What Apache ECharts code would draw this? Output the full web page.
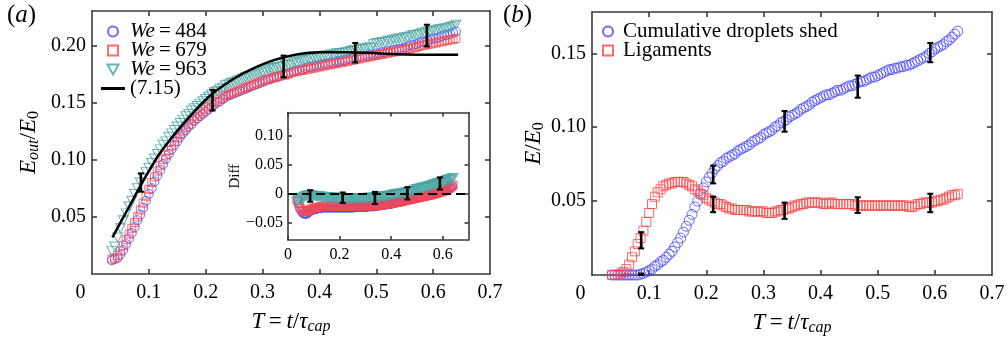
<!DOCTYPE html>
<html><head><meta charset="utf-8">
<script src="https://cdn.jsdelivr.net/npm/echarts@6/dist/echarts.min.js"></script>
<style>html,body{margin:0;padding:0;background:#fff}#c{width:1008px;height:342px}</style>
</head><body><div id="c"></div>
<script>
// ---------- data ----------
const T = [0.035,
  0.040,0.045,0.050,0.055,0.060,0.065,0.070,0.075,0.080,0.085,
  0.090,0.095,0.100,0.105,0.110,0.115,0.120,0.125,0.130,0.135,
  0.140,0.145,0.150,0.155,0.160,0.165,0.170,0.175,0.180,0.185,
  0.190,0.195,0.200,0.205,0.210,0.215,0.220,0.225,0.230,0.235,
  0.240,0.245,0.250,0.255,0.260,0.265,0.270,0.275,0.280,0.285,
  0.290,0.295,0.300,0.305,0.310,0.315,0.320,0.325,0.330,0.335,
  0.340,0.345,0.350,0.355,0.360,0.365,0.370,0.375,0.380,0.385,
  0.390,0.395,0.400,0.405,0.410,0.415,0.420,0.425,0.430,0.435,
  0.440,0.445,0.450,0.455,0.460,0.465,0.470,0.475,0.480,0.485,
  0.490,0.495,0.500,0.505,0.510,0.515,0.520,0.525,0.530,0.535,
  0.540,0.545,0.550,0.555,0.560,0.565,0.570,0.575,0.580,0.585,
  0.590,0.595,0.600,0.605,0.610,0.615,0.620,0.625,0.630,0.635,
  0.640];
// panel (a): E_out/E_0
const E484 = [0.012,
  0.013,0.014,0.017,0.021,0.026,0.031,0.036,0.041,0.047,0.052,
  0.058,0.064,0.070,0.075,0.081,0.086,0.091,0.096,0.101,0.105,
  0.109,0.113,0.116,0.120,0.123,0.126,0.129,0.131,0.134,0.136,
  0.138,0.140,0.142,0.144,0.146,0.148,0.150,0.151,0.153,0.155,
  0.156,0.157,0.158,0.159,0.160,0.161,0.162,0.163,0.164,0.165,
  0.166,0.167,0.168,0.169,0.170,0.171,0.172,0.172,0.173,0.174,
  0.175,0.175,0.176,0.177,0.178,0.178,0.179,0.180,0.181,0.181,
  0.182,0.182,0.183,0.183,0.184,0.184,0.185,0.185,0.186,0.186,
  0.187,0.187,0.188,0.188,0.189,0.189,0.190,0.190,0.191,0.191,
  0.192,0.192,0.193,0.193,0.194,0.194,0.195,0.195,0.196,0.196,
  0.197,0.197,0.198,0.199,0.200,0.200,0.201,0.202,0.203,0.203,
  0.204,0.205,0.206,0.206,0.207,0.208,0.209,0.209,0.210,0.211,
  0.212];
const E679 = [0.013,
  0.014,0.016,0.020,0.025,0.030,0.035,0.040,0.045,0.050,0.056,
  0.062,0.068,0.074,0.080,0.085,0.090,0.095,0.100,0.104,0.108,
  0.112,0.116,0.119,0.122,0.125,0.128,0.131,0.134,0.136,0.138,
  0.140,0.142,0.144,0.146,0.148,0.150,0.151,0.153,0.154,0.156,
  0.157,0.158,0.159,0.160,0.161,0.162,0.163,0.164,0.165,0.166,
  0.167,0.168,0.169,0.170,0.170,0.171,0.172,0.173,0.173,0.174,
  0.174,0.175,0.176,0.177,0.177,0.178,0.178,0.179,0.179,0.180,
  0.180,0.181,0.181,0.182,0.182,0.183,0.183,0.184,0.184,0.185,
  0.185,0.186,0.186,0.187,0.187,0.188,0.188,0.189,0.189,0.190,
  0.190,0.191,0.191,0.192,0.192,0.193,0.193,0.194,0.194,0.195,
  0.195,0.196,0.196,0.197,0.197,0.198,0.198,0.199,0.200,0.200,
  0.201,0.201,0.202,0.202,0.203,0.203,0.204,0.204,0.205,0.205,
  0.206];
const E963 = [0.020,
  0.024,0.032,0.040,0.047,0.053,0.059,0.064,0.070,0.075,0.080,
  0.084,0.089,0.093,0.097,0.101,0.105,0.109,0.113,0.116,0.120,
  0.123,0.126,0.129,0.132,0.135,0.138,0.140,0.143,0.145,0.147,
  0.149,0.151,0.153,0.155,0.157,0.159,0.160,0.162,0.163,0.165,
  0.166,0.167,0.168,0.169,0.170,0.171,0.172,0.173,0.174,0.175,
  0.176,0.177,0.177,0.178,0.179,0.180,0.180,0.181,0.181,0.182,
  0.183,0.183,0.184,0.185,0.185,0.186,0.187,0.187,0.188,0.188,
  0.189,0.189,0.190,0.190,0.191,0.191,0.192,0.192,0.193,0.193,
  0.193,0.194,0.194,0.195,0.196,0.196,0.197,0.197,0.197,0.198,
  0.198,0.201,0.202,0.202,0.203,0.203,0.204,0.204,0.205,0.205,
  0.206,0.206,0.207,0.207,0.208,0.209,0.209,0.210,0.211,0.211,
  0.212,0.212,0.213,0.213,0.214,0.214,0.215,0.215,0.216,0.217,
  0.218];
// model (7.15)
const modelT = [0.036,0.05,0.07,0.086,0.10,0.12,0.15,0.18,0.21,0.25,0.28,0.32,0.36,0.40,0.45,0.50,0.55,0.60,0.644];
const modelE = [0.032,0.045,0.063,0.078,0.090,0.106,0.125,0.142,0.157,0.171,0.179,0.187,0.192,0.194,0.194,0.193,0.192,0.1917,0.1917];
// error bars panel (a)
const errTa  = [0.086,0.212,0.337,0.463,0.589];
const errLoA = [0.072,0.143,0.172,0.185,0.199];
const errHiA = [0.088,0.161,0.191,0.202,0.218];
// inset: Diff
const D484 = [-0.012,
  -0.018,-0.025,-0.029,-0.033,-0.035,-0.036,-0.036,-0.035,-0.033,-0.031,
  -0.030,-0.029,-0.028,-0.028,-0.027,-0.027,-0.026,-0.026,-0.025,-0.025,
  -0.025,-0.025,-0.025,-0.025,-0.025,-0.025,-0.025,-0.025,-0.025,-0.025,
  -0.025,-0.025,-0.025,-0.025,-0.025,-0.025,-0.025,-0.025,-0.025,-0.025,
  -0.025,-0.025,-0.025,-0.025,-0.024,-0.024,-0.024,-0.024,-0.024,-0.024,
  -0.024,-0.024,-0.024,-0.024,-0.023,-0.023,-0.023,-0.023,-0.023,-0.023,
  -0.022,-0.022,-0.022,-0.021,-0.021,-0.021,-0.020,-0.020,-0.020,-0.019,
  -0.019,-0.019,-0.018,-0.018,-0.017,-0.017,-0.016,-0.016,-0.015,-0.015,
  -0.014,-0.014,-0.013,-0.013,-0.012,-0.012,-0.011,-0.011,-0.010,-0.010,
  -0.009,-0.009,-0.008,-0.008,-0.007,-0.007,-0.006,-0.006,-0.005,-0.005,
  -0.004,-0.004,-0.003,-0.003,-0.002,-0.001,0.000,0.000,0.001,0.001,
  0.002,0.003,0.004,0.004,0.005,0.006,0.007,0.008,0.009,0.010,
  0.012];
const D679 = [-0.011,
  -0.016,-0.022,-0.026,-0.029,-0.031,-0.031,-0.031,-0.030,-0.029,-0.028,
  -0.027,-0.026,-0.025,-0.025,-0.024,-0.024,-0.023,-0.023,-0.022,-0.022,
  -0.022,-0.022,-0.022,-0.022,-0.022,-0.022,-0.022,-0.022,-0.022,-0.022,
  -0.022,-0.022,-0.022,-0.022,-0.022,-0.022,-0.022,-0.022,-0.022,-0.022,
  -0.022,-0.022,-0.022,-0.022,-0.022,-0.022,-0.022,-0.022,-0.022,-0.021,
  -0.021,-0.021,-0.021,-0.021,-0.021,-0.021,-0.021,-0.021,-0.021,-0.020,
  -0.020,-0.020,-0.020,-0.019,-0.019,-0.019,-0.019,-0.018,-0.018,-0.018,
  -0.018,-0.017,-0.017,-0.016,-0.016,-0.015,-0.015,-0.015,-0.014,-0.014,
  -0.013,-0.013,-0.012,-0.012,-0.011,-0.011,-0.010,-0.010,-0.009,-0.009,
  -0.008,-0.008,-0.007,-0.007,-0.006,-0.006,-0.005,-0.005,-0.004,-0.004,
  -0.003,-0.003,-0.002,-0.002,-0.001,-0.001,0.000,0.000,0.001,0.002,
  0.003,0.003,0.004,0.005,0.006,0.007,0.008,0.009,0.011,0.013,
  0.015];
const D963 = [-0.014,
  -0.012,-0.010,-0.009,-0.007,-0.006,-0.005,-0.004,-0.003,-0.003,-0.003,
  -0.003,-0.003,-0.004,-0.004,-0.004,-0.005,-0.005,-0.005,-0.005,-0.006,
  -0.006,-0.006,-0.006,-0.006,-0.007,-0.007,-0.007,-0.007,-0.007,-0.007,
  -0.008,-0.008,-0.008,-0.008,-0.008,-0.008,-0.008,-0.008,-0.008,-0.008,
  -0.008,-0.008,-0.008,-0.008,-0.008,-0.008,-0.008,-0.008,-0.008,-0.008,
  -0.008,-0.008,-0.008,-0.008,-0.007,-0.007,-0.007,-0.007,-0.007,-0.007,
  -0.006,-0.006,-0.006,-0.006,-0.005,-0.005,-0.005,-0.005,-0.004,-0.004,
  -0.004,-0.003,-0.003,-0.002,-0.002,-0.001,-0.001,0.000,0.000,0.000,
  0.000,0.001,0.001,0.002,0.002,0.003,0.003,0.004,0.004,0.005,
  0.005,0.007,0.008,0.008,0.009,0.009,0.010,0.010,0.011,0.011,
  0.012,0.013,0.013,0.014,0.015,0.016,0.016,0.017,0.018,0.018,
  0.019,0.020,0.020,0.021,0.022,0.023,0.024,0.024,0.025,0.026,
  0.027];
const errLoD = [-0.014,-0.016,-0.018,-0.010,0.007];
const errHiD = [0.006,0.002,0.003,0.011,0.028];
// panel (b): E/E_0
const shed = [0.000,
  0.000,0.000,0.000,0.000,0.000,0.000,0.000,0.000,0.000,0.0005,
  0.001,0.002,0.003,0.004,0.006,0.007,0.009,0.010,0.012,0.014,
  0.016,0.019,0.022,0.025,0.029,0.033,0.037,0.041,0.046,0.050,
  0.055,0.059,0.063,0.066,0.069,0.072,0.074,0.076,0.077,0.079,
  0.080,0.081,0.082,0.084,0.085,0.086,0.087,0.088,0.090,0.091,
  0.092,0.093,0.095,0.096,0.097,0.098,0.100,0.101,0.103,0.104,
  0.105,0.107,0.108,0.109,0.110,0.112,0.113,0.114,0.115,0.117,
  0.118,0.119,0.120,0.121,0.122,0.122,0.123,0.124,0.125,0.125,
  0.126,0.127,0.128,0.128,0.129,0.130,0.131,0.131,0.132,0.133,
  0.134,0.134,0.135,0.136,0.137,0.138,0.139,0.139,0.140,0.140,
  0.141,0.141,0.142,0.142,0.143,0.144,0.145,0.146,0.147,0.148,
  0.150,0.151,0.153,0.154,0.155,0.156,0.158,0.159,0.161,0.163,
  0.165];
const lig = [0.000,
  0.000,0.000,0.001,0.002,0.004,0.007,0.012,0.016,0.021,0.025,
  0.030,0.036,0.042,0.048,0.053,0.056,0.058,0.060,0.061,0.062,
  0.062,0.063,0.063,0.063,0.063,0.062,0.061,0.060,0.058,0.057,
  0.055,0.054,0.052,0.051,0.050,0.049,0.048,0.048,0.047,0.046,
  0.045,0.045,0.044,0.044,0.044,0.044,0.044,0.043,0.043,0.043,
  0.043,0.043,0.043,0.042,0.042,0.042,0.043,0.043,0.044,0.044,
  0.045,0.045,0.046,0.047,0.047,0.048,0.048,0.049,0.049,0.049,
  0.049,0.049,0.049,0.048,0.048,0.049,0.049,0.048,0.048,0.048,
  0.048,0.048,0.048,0.048,0.047,0.047,0.047,0.047,0.047,0.047,
  0.047,0.047,0.047,0.047,0.047,0.047,0.047,0.047,0.047,0.047,
  0.047,0.047,0.047,0.046,0.046,0.047,0.048,0.048,0.049,0.049,
  0.049,0.049,0.050,0.050,0.051,0.051,0.052,0.053,0.054,0.054,
  0.055];
const errTb     = [0.086,0.212,0.337,0.465,0.592];
const errLoShed = [0.000,0.062,0.097,0.120,0.144];
const errHiShed = [0.001,0.074,0.111,0.135,0.157];
const errLoLig  = [0.018,0.0425,0.038,0.042,0.0425];
const errHiLig  = [0.029,0.053,0.049,0.0526,0.055];
// tick values
const xTickLabels = [0,0.1,0.2,0.3,0.4,0.5,0.6,0.7];
const xTicks = [0.1,0.2,0.3,0.4,0.5,0.6];
const yTicksA = [0.05,0.10,0.15,0.20];
const yTicksB = [0.05,0.10,0.15];
const xTicksInset = [0,0.2,0.4,0.6];
const yTicksInset = [-0.05,0,0.05,0.10];

// ---------- style ----------
const FONT = 'Liberation Serif';
const AX = '#3a3a3a';
const BLUE = '#4646ff', RED = '#ff4646', TEAL = '#44a3a0';
const TRI = 'path://M0,0L10,0L5,9Z';
const SQ = 'path://M0,0L10,0L10,10L0,10Z';
const BAR = 'path://M0,0L24,0L24,3L0,3Z';
const HOLLOW = 'rgba(255,255,255,0)';

function pts(xs, ys){ return xs.map((x,i)=>[x, ys[i]]); }
function errData(xs, lo, hi){ return xs.map((x,i)=>[x, lo[i], hi[i]]); }
function errRender(params, api){
  const x = api.value(0), lo = api.value(1), hi = api.value(2);
  const a = api.coord([x, lo]), b = api.coord([x, hi]);
  const w = 3;
  return {type:'group', children:[
    {type:'line', shape:{x1:a[0],y1:a[1],x2:b[0],y2:b[1]}, style:{stroke:'#000', lineWidth:2.6}},
    {type:'line', shape:{x1:a[0]-w,y1:a[1],x2:a[0]+w,y2:a[1]}, style:{stroke:'#000', lineWidth:2}},
    {type:'line', shape:{x1:b[0]-w,y1:b[1],x2:b[0]+w,y2:b[1]}, style:{stroke:'#000', lineWidth:2}}
  ]};
}
const richTitle = (size) => ({
  i:{fontFamily:FONT, fontStyle:'italic', fontSize:size, color:'#000'},
  n:{fontFamily:FONT, fontSize:size, color:'#000'},
  s:{fontFamily:FONT, fontStyle:'italic', fontSize:Math.round(size*0.7), color:'#000', padding:[11,0,0,0]},
  z:{fontFamily:FONT, fontSize:Math.round(size*0.7), color:'#000', padding:[11,0,0,0]}
});
const lineStyleAx = {color:AX, width:1.6};
function mainX(gi, name){
  return [
    {type:'value', gridIndex:gi, position:'bottom', min:0, max:0.7,
     axisLine:{show:true, onZero:false, lineStyle:lineStyleAx},
     axisTick:{show:true, inside:true, length:5, customValues:xTicks, lineStyle:lineStyleAx},
     axisLabel:{show:true, customValues:xTickLabels, margin:9, fontFamily:FONT, fontSize:20, color:'#000',
       formatter:v => Math.abs(v) < 1e-9 ? '{z|0}' : v.toFixed(1),
       rich:{z:{fontFamily:FONT, fontSize:20, color:'#000', padding:[0,23,0,0]}}},
     splitLine:{show:false},
     name:name, nameLocation:'middle', nameGap:34,
     nameTextStyle:{rich:richTitle(23)}},
    {type:'value', gridIndex:gi, position:'top', min:0, max:0.7,
     axisLine:{show:true, onZero:false, lineStyle:lineStyleAx},
     axisTick:{show:true, inside:true, length:5, customValues:xTicks, lineStyle:lineStyleAx},
     axisLabel:{show:false}, splitLine:{show:false}}
  ];
}
function mainY(gi, max, ticks, name, gap){
  return [
    {type:'value', gridIndex:gi, position:'left', min:0, max:max,
     axisLine:{show:true, onZero:false, lineStyle:lineStyleAx},
     axisTick:{show:true, inside:true, length:5, customValues:ticks, lineStyle:lineStyleAx},
     axisLabel:{show:true, customValues:ticks, margin:6, fontFamily:FONT, fontSize:20, color:'#000',
       formatter:v => v.toFixed(2)},
     splitLine:{show:false},
     name:name, nameLocation:'middle', nameRotate:90, nameGap:gap,
     nameTextStyle:{rich:richTitle(23)}},
    {type:'value', gridIndex:gi, position:'right', min:0, max:max,
     axisLine:{show:true, onZero:false, lineStyle:lineStyleAx},
     axisTick:{show:true, inside:true, length:5, customValues:ticks, lineStyle:lineStyleAx},
     axisLabel:{show:false}, splitLine:{show:false}}
  ];
}
const insetX = [
  {type:'value', gridIndex:1, position:'bottom', min:0, max:0.7, z:11,
   axisLine:{show:true, onZero:false, lineStyle:lineStyleAx},
   axisTick:{show:true, inside:true, length:4, customValues:xTicksInset, lineStyle:lineStyleAx},
   axisLabel:{show:true, customValues:xTicksInset, margin:7, fontFamily:FONT, fontSize:16, color:'#000',
     formatter:v => Math.abs(v) < 1e-9 ? '0' : v.toFixed(1)},
   splitLine:{show:false}},
  {type:'value', gridIndex:1, position:'top', min:0, max:0.7, z:11,
   axisLine:{show:true, onZero:false, lineStyle:lineStyleAx},
   axisTick:{show:true, inside:true, length:4, customValues:xTicksInset, lineStyle:lineStyleAx},
   axisLabel:{show:false}, splitLine:{show:false}}
];
const insetY = [
  {type:'value', gridIndex:1, position:'left', min:-0.08, max:0.14, z:11,
   axisLine:{show:true, onZero:false, lineStyle:lineStyleAx},
   axisTick:{show:true, inside:true, length:4, customValues:yTicksInset, lineStyle:lineStyleAx},
   axisLabel:{show:true, customValues:yTicksInset, margin:5, fontFamily:FONT, fontSize:16, color:'#000',
     formatter:v => Math.abs(v) < 1e-9 ? '0' : (v < 0 ? '\u2212' : '') + Math.abs(v).toFixed(2)},
   splitLine:{show:false},
   name:'Diff', nameLocation:'middle', nameRotate:90, nameGap:40,
   nameTextStyle:{fontFamily:FONT, fontSize:15, color:'#000'}},
  {type:'value', gridIndex:1, position:'right', min:-0.08, max:0.14, z:11,
   axisLine:{show:true, onZero:false, lineStyle:lineStyleAx},
   axisTick:{show:true, inside:true, length:4, customValues:yTicksInset, lineStyle:lineStyleAx},
   axisLabel:{show:false}, splitLine:{show:false}}
];

const xName = '{i|T}{n|\u2009=\u2009}{i|t}{n|/}{i|\u03c4}{s|cap}';
const legendText = {fontFamily:FONT, fontSize:21, color:'#000', lineHeight:17,
  rich:{i:{fontFamily:FONT, fontStyle:'italic', fontSize:21, color:'#000', lineHeight:17},
        n:{fontFamily:FONT, fontSize:21, color:'#000', lineHeight:17}}};
const option = {
  animation:false,
  backgroundColor:'#fff',
  grid:[
    {left:92, top:11, width:398, height:263},
    {left:288, top:112.5, width:180.5, height:127.5, show:true, backgroundColor:'#fff', borderWidth:0, z:10},
    {left:592, top:12, width:400, height:263}
  ],
  xAxis:[...mainX(0, xName), ...insetX, ...mainX(2, xName)],
  yAxis:[...mainY(0, 0.23, yTicksA, '{i|E}{s|out}{n|/}{i|E}{z|0}', 50),
         ...insetY,
         ...mainY(2, 0.178, yTicksB, '{i|E}{n|/}{i|E}{z|0}', 39)],
  legend:[
    {left:96, top:16, orient:'vertical', itemWidth:24, itemHeight:10, itemGap:-2, selectedMode:false,
     data:[{name:'We = 484', icon:'circle'},{name:'We = 679', icon:SQ},{name:'We = 963', icon:TRI},{name:'(7.15)', icon:BAR}],
     formatter:n => n.indexOf('We') === 0 ? '{i|We}{n|\u2009=\u2009' + n.slice(5) + '}' : '{n|' + n + '}',
     textStyle:legendText},
    {left:597, top:16, orient:'vertical', itemWidth:20, itemHeight:10, itemGap:-2, selectedMode:false,
     data:[{name:'Cumulative droplets shed', icon:'circle'},{name:'Ligaments', icon:SQ}],
     formatter:n => '{n|' + n + '}',
     textStyle:legendText}
  ],
  graphic:[
    {type:'text', left:7, top:3, style:{text:'{n|(}{i|a}{n|)}', rich:richTitle(25)}},
    {type:'text', left:503, top:3, style:{text:'{n|(}{i|b}{n|)}', rich:richTitle(25)}}
  ],
  series:[
    {name:'We = 484', type:'scatter', xAxisIndex:0, yAxisIndex:0, data:pts(T,E484), symbol:'circle', symbolSize:9,
     itemStyle:{color:HOLLOW, borderColor:BLUE, borderWidth:1}, z:2},
    {name:'We = 679', type:'scatter', xAxisIndex:0, yAxisIndex:0, data:pts(T,E679), symbol:'rect', symbolSize:8,
     itemStyle:{color:HOLLOW, borderColor:RED, borderWidth:1}, z:2},
    {name:'We = 963', type:'scatter', xAxisIndex:0, yAxisIndex:0, data:pts(T,E963), symbol:TRI, symbolSize:[10,9],
     itemStyle:{color:HOLLOW, borderColor:TEAL, borderWidth:1}, z:2},
    {name:'(7.15)', type:'line', xAxisIndex:0, yAxisIndex:0, data:pts(modelT,modelE), smooth:0.35, symbol:'none',
     lineStyle:{color:'#000', width:2.5}, itemStyle:{color:'#000'}, z:4},
    {name:'errA', type:'custom', xAxisIndex:0, yAxisIndex:0, renderItem:errRender, data:errData(errTa,errLoA,errHiA), z:5},
    // inset
    {name:'d484', type:'scatter', xAxisIndex:2, yAxisIndex:2, data:pts(T,D484), symbol:'circle', symbolSize:8,
     itemStyle:{color:HOLLOW, borderColor:BLUE, borderWidth:1}, z:12},
    {name:'d679', type:'scatter', xAxisIndex:2, yAxisIndex:2, data:pts(T,D679), symbol:'rect', symbolSize:8,
     itemStyle:{color:HOLLOW, borderColor:RED, borderWidth:1}, z:12},
    {name:'d963', type:'scatter', xAxisIndex:2, yAxisIndex:2, data:pts(T,D963), symbol:TRI, symbolSize:[10,9],
     itemStyle:{color:HOLLOW, borderColor:TEAL, borderWidth:1}, z:12,
     markLine:{silent:true, symbol:'none', label:{show:false}, z:13,
       lineStyle:{color:'#000', type:[9,5], width:2.2}, data:[{yAxis:0}]}},
    {name:'errD', type:'custom', xAxisIndex:2, yAxisIndex:2, renderItem:errRender, data:errData(errTa,errLoD,errHiD), z:14},
    // panel b
    {name:'Cumulative droplets shed', type:'scatter', xAxisIndex:4, yAxisIndex:4, data:pts(T,shed), symbol:'circle', symbolSize:10,
     itemStyle:{color:HOLLOW, borderColor:BLUE, borderWidth:1}, z:2},
    {name:'Ligaments', type:'scatter', xAxisIndex:4, yAxisIndex:4, data:pts(T,lig), symbol:'rect', symbolSize:9,
     itemStyle:{color:HOLLOW, borderColor:RED, borderWidth:1}, z:2},
    {name:'errShed', type:'custom', xAxisIndex:4, yAxisIndex:4, renderItem:errRender, data:errData(errTb,errLoShed,errHiShed), z:5},
    {name:'errLig', type:'custom', xAxisIndex:4, yAxisIndex:4, renderItem:errRender, data:errData(errTb,errLoLig,errHiLig), z:5}
  ]
};
const chart = echarts.init(document.getElementById('c'), null, {renderer:'canvas'});
chart.setOption(option);
</script>
</body></html>
